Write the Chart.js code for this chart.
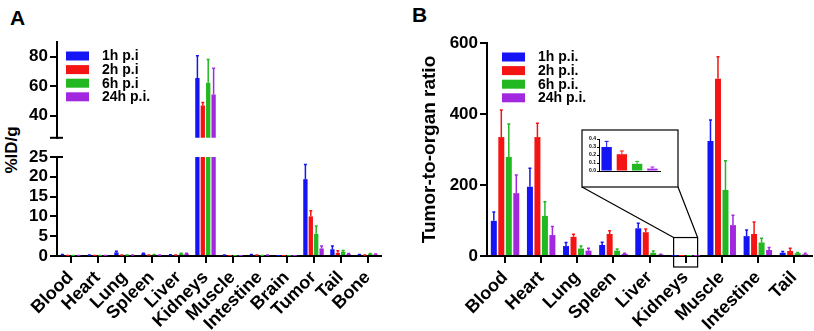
<!DOCTYPE html>
<html>
<head>
<meta charset="utf-8">
<script src="https://cdn.jsdelivr.net/npm/chart.js@4.4.0/dist/chart.umd.min.js"></script>
<style>
  body { margin: 0; background: #fff; }
  #wrap { position: relative; width: 814px; height: 331px; overflow: hidden; font-family: "Liberation Sans", Arial, sans-serif; }
  canvas { position: absolute; }
  .panel { position: absolute; font-weight: bold; font-size: 21px; }
  #ytA { position: absolute; left: 12px; top: 150px; transform: translate(-50%, -50%) rotate(-90deg); font-weight: bold; font-size: 17px; white-space: nowrap; }
</style>
</head>
<body>
<div id="wrap">
  <div class="panel" style="left:10px;top:6px">A</div>
  <div class="panel" style="left:412px;top:3px">B</div>
  <div id="ytA">%ID/g</div>
  <canvas id="a1" width="400" height="150" style="left:0;top:0"></canvas>
  <canvas id="a2" width="400" height="191" style="left:0;top:140px"></canvas>
  <canvas id="b" width="414" height="331" style="left:400px;top:0"></canvas>
  <canvas id="inset" width="96" height="57" style="left:582px;top:130px"></canvas>
</div>
<script>
// ---- data ----
const organsA = ['Blood', 'Heart', 'Lung', 'Spleen', 'Liver', 'Kidneys', 'Muscle', 'Intestine', 'Brain', 'Tumor', 'Tail', 'Bone'];
const labelsA = ['1h p.i', '2h p.i', '6h p.i', '24h p.i.'];
const idg1h     = [0.3, 0.2, 0.9, 0.6, 0.2, 65.6, 0.2, 0.3, 0.05, 19.4, 1.7, 0.3];
const idg1hErr  = [0.1, 0.05, 0.3, 0.1, 0.1, 15.1, 0.05, 0.1, 0.02, 3.7, 0.8, 0.1];
const idg2h     = [0.1, 0.1, 0.2, 0.2, 0.2, 46.9, 0.05, 0.2, 0.03, 10.0, 0.8, 0.2];
const idg2hErr  = [0.05, 0.05, 0.05, 0.05, 0.05, 2.0, 0.02, 0.05, 0.01, 1.4, 0.5, 0.05];
const idg6h     = [0.1, 0.1, 0.2, 0.3, 0.6, 62.4, 0.05, 0.1, 0.03, 5.6, 1.1, 0.5];
const idg6hErr  = [0.05, 0.05, 0.05, 0.05, 0.1, 15.8, 0.02, 0.05, 0.01, 2.0, 0.3, 0.1];
const idg24h    = [0.1, 0.1, 0.2, 0.2, 0.6, 54.4, 0.05, 0.2, 0.03, 1.9, 0.5, 0.4];
const idg24hErr = [0.05, 0.05, 0.05, 0.05, 0.1, 17.8, 0.02, 0.05, 0.01, 0.6, 0.1, 0.1];

const organsB = ['Blood', 'Heart', 'Lung', 'Spleen', 'Liver', 'Kidneys', 'Muscle', 'Intestine', 'Tail'];
const labelsB = ['1h p.i.', '2h p.i.', '6h p.i.', '24h p.i.'];
const ratio1h     = [99, 195, 28, 31, 78, 0.30, 324, 56, 9];
const ratio1hErr  = [25, 52, 10, 8, 14, 0.07, 59, 17, 4];
const ratio2h     = [335, 335, 54, 62, 67, 0.21, 499, 62, 14];
const ratio2hErr  = [76, 39, 7, 9, 9, 0.04, 62, 34, 8];
const ratio6h     = [279, 113, 21, 15, 9, 0.09, 186, 38, 8];
const ratio6hErr  = [93, 40, 7, 5, 5, 0.03, 82, 12, 2];
const ratio24h    = [177, 59, 15, 6, 4, 0.03, 87, 17, 5];
const ratio24hErr = [51, 24, 7, 2, 1, 0.02, 28, 7, 3];

const ticksTopA = [40, 60, 80];
const ticksBottomA = [0, 5, 10, 15, 20, 25];
const ticksB = [0, 200, 400, 600];
const insetTicks = [0, 0.1, 0.2, 0.3, 0.4];
const colors = ['#1414f5', '#f51414', '#22b822', '#a228e0'];

Chart.defaults.font.family = '"Liberation Sans", Arial, sans-serif';
Chart.defaults.font.weight = 'bold';
Chart.defaults.color = '#000';

// ---- plugins ----
const errorBars = {
  id: 'errorBars',
  afterDatasetsDraw(chart, args, opts) {
    const ctx = chart.ctx, a = chart.chartArea, y = chart.scales.y;
    ctx.save();
    ctx.beginPath();
    ctx.rect(a.left, a.top - 1, a.right - a.left, a.bottom - a.top + 1);
    ctx.clip();
    chart.data.datasets.forEach((ds, i) => {
      const meta = chart.getDatasetMeta(i);
      meta.data.forEach((bar, j) => {
        const e = ds.errors[j];
        if (!e) return;
        const top = y.getPixelForValue(ds.data[j] + e);
        ctx.strokeStyle = Array.isArray(ds.backgroundColor) ? ds.backgroundColor[j] : ds.backgroundColor;
        ctx.lineWidth = opts.width || 1.5;
        ctx.beginPath();
        ctx.moveTo(bar.x, bar.y);
        ctx.lineTo(bar.x, top);
        ctx.moveTo(bar.x - (opts.cap || 1.5), top);
        ctx.lineTo(bar.x + (opts.cap || 1.5), top);
        ctx.stroke();
      });
    });
    ctx.restore();
  }
};

const boxLegend = {
  id: 'boxLegend',
  afterDraw(chart, args, opts) {
    if (!opts.show) return;
    const ctx = chart.ctx, a = chart.chartArea;
    ctx.save();
    ctx.font = 'bold 14px "Liberation Sans", Arial, sans-serif';
    ctx.textBaseline = 'middle';
    chart.data.datasets.forEach((ds, i) => {
      const cy = a.top + opts.y + i * 13.6;
      ctx.fillStyle = ds.backgroundColor;
      ctx.fillRect(a.left + opts.x, cy - 4.5, 23, 9);
      ctx.fillStyle = '#000';
      ctx.fillText(ds.label, a.left + opts.x + 36, cy + 0.5);
    });
    ctx.restore();
  }
};

const breakMark = {
  id: 'breakMark',
  afterDraw(chart, args, opts) {
    if (!opts.at) return;
    const ctx = chart.ctx, a = chart.chartArea;
    const yy = opts.at === 'bottom' ? a.bottom : a.top;
    ctx.save();
    ctx.strokeStyle = '#000';
    ctx.lineWidth = 2;
    ctx.beginPath();
    ctx.moveTo(a.left - 7, yy);
    ctx.lineTo(a.left + 6, yy);
    ctx.stroke();
    ctx.restore();
  }
};

const insetBox = {
  id: 'insetBox',
  afterDraw(chart, args, opts) {
    if (!opts.box) return;
    const ctx = chart.ctx, a = chart.chartArea;
    const cx = chart.scales.x.getPixelForValue(opts.index);
    const r = { l: cx - 12, r: cx + 12, t: chart.scales.y.getPixelForValue(52), b: a.bottom + 11 };
    const bx = opts.box;
    ctx.save();
    ctx.strokeStyle = '#000';
    ctx.lineWidth = 1.2;
    ctx.strokeRect(r.l, r.t, r.r - r.l, r.b - r.t);
    ctx.strokeRect(bx.l, bx.t, bx.w, bx.h);
    ctx.beginPath();
    ctx.moveTo(bx.l, bx.t + bx.h);
    ctx.lineTo(r.l, r.t);
    ctx.moveTo(bx.l + bx.w, bx.t + bx.h);
    ctx.lineTo(r.r, r.t);
    ctx.stroke();
    ctx.restore();
  }
};

function makeSets(labels, vals, errs, catPct) {
  return vals.map((v, i) => ({
    label: labels[i],
    data: v,
    errors: errs[i],
    backgroundColor: colors[i],
    categoryPercentage: catPct,
    barPercentage: 0.8
  }));
}

const fixTicks = list => s => { s.ticks = list.map(v => ({ value: v })); };
const axisBorder = { color: '#000', width: 2 };
const tickGrid = { drawOnChartArea: false, color: '#000', lineWidth: 2, tickLength: 7, offset: false };
const xTicks = { autoSkip: false, minRotation: 45, maxRotation: 45, font: { size: 18, weight: 'bold' }, padding: 4 };
const yTicks = { autoSkip: false, font: { size: 17, weight: 'bold' }, padding: 2 };

// ---- panel A, upper part (broken axis 25-90) ----
new Chart(document.getElementById('a1'), {
  type: 'bar',
  data: { labels: organsA, datasets: makeSets(labelsA, [idg1h, idg2h, idg6h, idg24h], [idg1hErr, idg2hErr, idg6hErr, idg24hErr], 0.8) },
  options: {
    responsive: false,
    animation: false,
    layout: { padding: { top: 42, bottom: 9, right: 19, left: 0 } },
    plugins: { legend: { display: false }, tooltip: { enabled: false }, boxLegend: { show: true, x: 9, y: 14 }, breakMark: { at: 'bottom' } },
    scales: {
      x: { display: false },
      y: {
        min: 25, max: 90,
        afterBuildTicks: fixTicks(ticksTopA),
        afterFit: s => { s.width = 57; },
        border: axisBorder,
        grid: tickGrid,
        ticks: yTicks
      }
    }
  },
  plugins: [errorBars, boxLegend, breakMark]
});

// ---- panel A, lower part (0-25) ----
new Chart(document.getElementById('a2'), {
  type: 'bar',
  data: { labels: organsA, datasets: makeSets(labelsA, [idg1h, idg2h, idg6h, idg24h], [idg1hErr, idg2hErr, idg6hErr, idg24hErr], 0.8) },
  options: {
    responsive: false,
    animation: false,
    layout: { padding: { top: 17, bottom: 0, right: 19, left: 0 } },
    plugins: { legend: { display: false }, tooltip: { enabled: false }, breakMark: { at: 'top' } },
    scales: {
      x: {
        afterFit: s => { s.height = 75; },
        border: axisBorder,
        grid: tickGrid,
        ticks: xTicks
      },
      y: {
        min: 0, max: 25,
        afterBuildTicks: fixTicks(ticksBottomA),
        afterFit: s => { s.width = 57; },
        border: axisBorder,
        grid: tickGrid,
        ticks: yTicks
      }
    }
  },
  plugins: [errorBars, breakMark]
});

// ---- panel B ----
const kidneyIdx = organsB.indexOf('Kidneys');
new Chart(document.getElementById('b'), {
  type: 'bar',
  data: { labels: organsB, datasets: makeSets(labelsB, [ratio1h, ratio2h, ratio6h, ratio24h], [ratio1hErr, ratio2hErr, ratio6hErr, ratio24hErr], 0.83) },
  options: {
    responsive: false,
    animation: false,
    layout: { padding: { top: 43, bottom: 0, right: 2, left: 0 } },
    plugins: {
      legend: { display: false }, tooltip: { enabled: false },
      boxLegend: { show: true, x: 15, y: 14 },
      insetBox: { index: kidneyIdx, box: { l: 182, t: 130, w: 96, h: 57 } }
    },
    scales: {
      x: {
        afterFit: s => { s.height = 75; },
        border: axisBorder,
        grid: tickGrid,
        ticks: xTicks
      },
      y: {
        min: 0, max: 600,
        afterBuildTicks: fixTicks(ticksB),
        afterFit: s => { s.width = 87; },
        border: axisBorder,
        grid: tickGrid,
        title: { display: true, text: 'Tumor-to-organ ratio', font: { size: 19, weight: 'bold' }, padding: { top: 18, bottom: 0 } },
        ticks: yTicks
      }
    }
  },
  plugins: [errorBars, boxLegend, insetBox]
});

// ---- inset: kidneys ratios ----
const kidneyVals = [ratio1h, ratio2h, ratio6h, ratio24h].map(a => a[kidneyIdx]);
const kidneyErrs = [ratio1hErr, ratio2hErr, ratio6hErr, ratio24hErr].map(a => a[kidneyIdx]);
new Chart(document.getElementById('inset'), {
  type: 'bar',
  data: {
    labels: labelsB,
    datasets: [{ data: kidneyVals, errors: kidneyErrs, backgroundColor: colors, categoryPercentage: 1, barPercentage: 0.68 }]
  },
  options: {
    responsive: false,
    animation: false,
    layout: { padding: { top: 9, bottom: 8, right: 18, left: 0 } },
    plugins: { legend: { display: false }, tooltip: { enabled: false }, errorBars: { width: 1, cap: 2 } },
    scales: {
      x: { ticks: { display: false }, grid: { display: false }, border: { color: '#000', width: 1 } },
      y: {
        min: 0, max: 0.4,
        afterBuildTicks: fixTicks(insetTicks),
        afterFit: s => { s.width = 17; },
        border: { color: '#000', width: 1 },
        grid: { drawOnChartArea: false, color: '#000', lineWidth: 1, tickLength: 2 },
        ticks: { autoSkip: false, font: { size: 5, weight: 'bold' }, padding: 1, callback: v => v.toFixed(1) }
      }
    }
  },
  plugins: [errorBars]
});
</script>
</body>
</html>
